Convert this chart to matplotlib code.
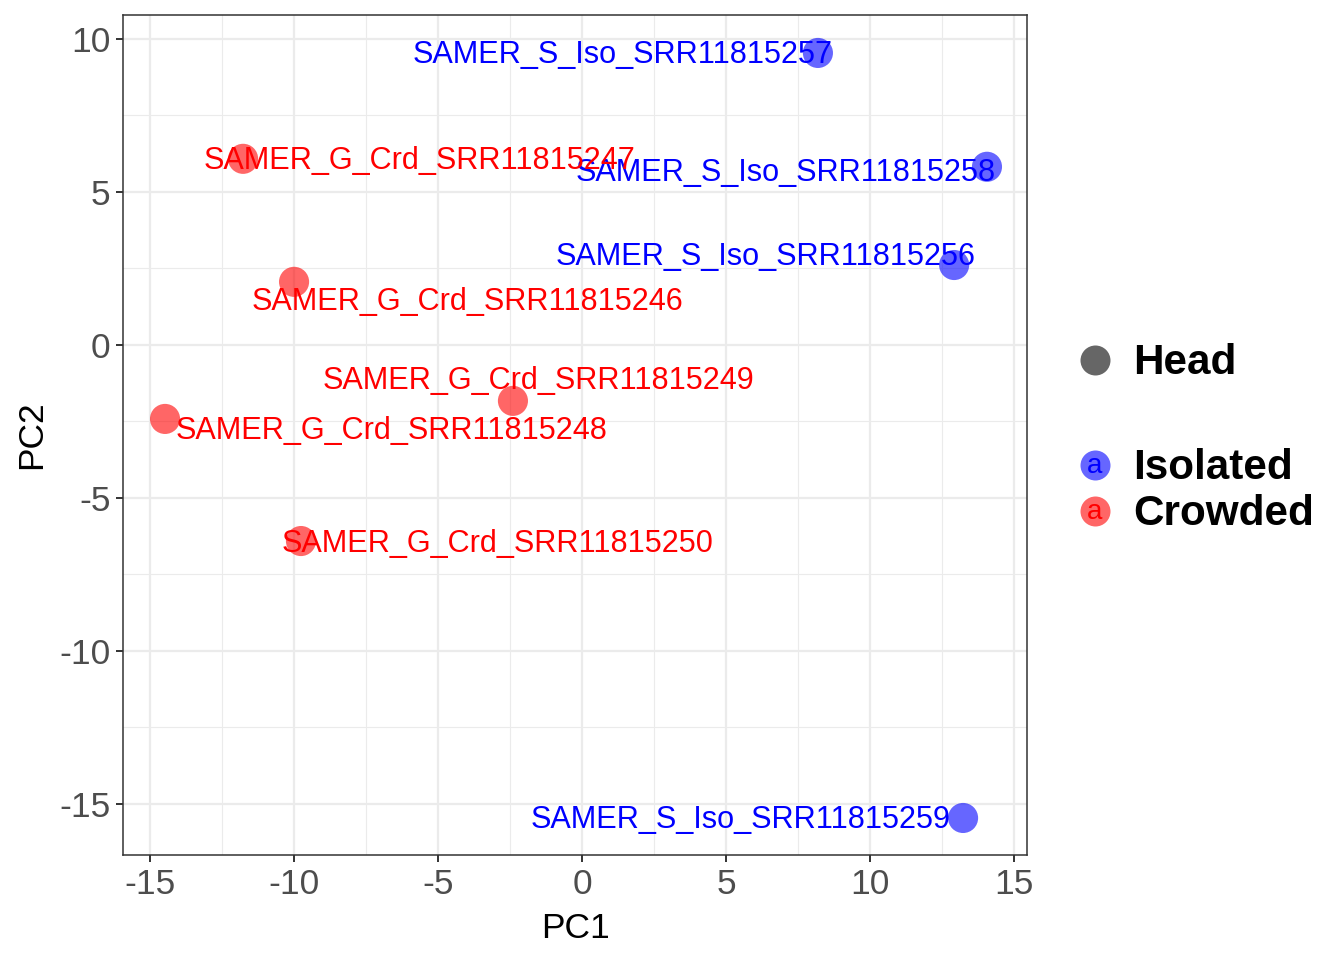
import matplotlib
matplotlib.use("Agg")
import matplotlib.pyplot as plt
from matplotlib.lines import Line2D
import numpy as np

plt.rcParams['font.family'] = ['Liberation Sans', 'DejaVu Sans']
plt.rcParams['axes.unicode_minus'] = False

# ---- data ----
samples = ["SAMER_S_Iso_SRR11815257", "SAMER_S_Iso_SRR11815258", "SAMER_S_Iso_SRR11815256",
           "SAMER_S_Iso_SRR11815259", "SAMER_G_Crd_SRR11815247", "SAMER_G_Crd_SRR11815246",
           "SAMER_G_Crd_SRR11815249", "SAMER_G_Crd_SRR11815248", "SAMER_G_Crd_SRR11815250"]
pc1 = [8.19, 14.06, 12.92, 13.23, -11.77, -10.00, -2.40, -14.48, -9.76]
pc2 = [9.54, 5.82, 2.61, -15.46, 6.08, 2.06, -1.83, -2.42, -6.41]
group = ["Isolated", "Isolated", "Isolated", "Isolated", "Crowded", "Crowded",
         "Crowded", "Crowded", "Crowded"]
group_levels = ["Isolated", "Crowded"]
group_colors = {"Isolated": "#0000FF", "Crowded": "#FF0000"}
xticks = [-15, -10, -5, 0, 5, 10, 15]
yticks = [-15, -10, -5, 0, 5, 10]

# label offsets (pixels) mimicking ggrepel placement
label_dx = [-195, -201, -189, -222, 176, 173, 26, 227, 197]
label_dy = [-2, -6, 8, -2, -2, -20, 20, -12, -3]

W, H = 1344, 960
fig = plt.figure(figsize=(W / 100, H / 100), dpi=100)
ax = fig.add_axes([123 / W, 105 / H, 904 / W, 840 / H])

ax.set_xlim(-15.94, 15.45)
ax.set_ylim(-16.67, 10.78)
ax.set_xticks(xticks)
ax.set_yticks(yticks)
ax.set_xticks(np.arange(-12.5, 15, 5), minor=True)
ax.set_yticks(np.arange(-12.5, 10.5, 5), minor=True)
ax.grid(True, which='major', color='#EBEBEB', lw=1.6)
ax.grid(True, which='minor', color='#EBEBEB', lw=0.8)
ax.set_axisbelow(True)
ax.tick_params(which='minor', length=0)
ax.tick_params(which='major', length=5, width=1.4, color='#333333',
               labelsize=25.5, labelcolor='#4D4D4D', pad=4)
for s in ax.spines.values():
    s.set_color('#333333')
    s.set_linewidth(1.1)

cols = [group_colors[g] for g in group]
ax.scatter(pc1, pc2, s=470, c=cols, alpha=0.6, edgecolors='none', zorder=3)
for name, x, y, dx, dy, c in zip(samples, pc1, pc2, label_dx, label_dy, cols):
    ax.annotate(name, (x, y), xytext=(dx, dy), textcoords='offset pixels',
                ha='center', va='center', fontsize=22.1, color=c, zorder=4)

ax.set_xlabel("PC1", fontsize=25.5, labelpad=8)
ax.set_ylabel("PC2", fontsize=25.5, labelpad=8)

# ---- legend (manual) ----
def fx(px):
    return px / W

def fy(py):
    return 1 - py / H

fig.add_artist(Line2D([fx(1095)], [fy(360)], marker='o', markersize=21.6,
                      color='#666666', markeredgewidth=0, transform=fig.transFigure))
fig.text(fx(1133), fy(363), "Head", fontsize=30.4, fontweight='bold', va='center', ha='left')
for i, g in enumerate(group_levels):
    yy = 465 + 46 * i
    fig.add_artist(Line2D([fx(1095)], [fy(yy)], marker='o', markersize=21.6,
                          color=group_colors[g], alpha=0.6, markeredgewidth=0,
                          transform=fig.transFigure))
    fig.text(fx(1095), fy(yy + 1), "a", fontsize=20, color=group_colors[g],
             va='center', ha='center')
    fig.text(fx(1133), fy(yy + 3), g, fontsize=30.4, fontweight='bold', va='center', ha='left')

fig.savefig("out.png", dpi=100)
